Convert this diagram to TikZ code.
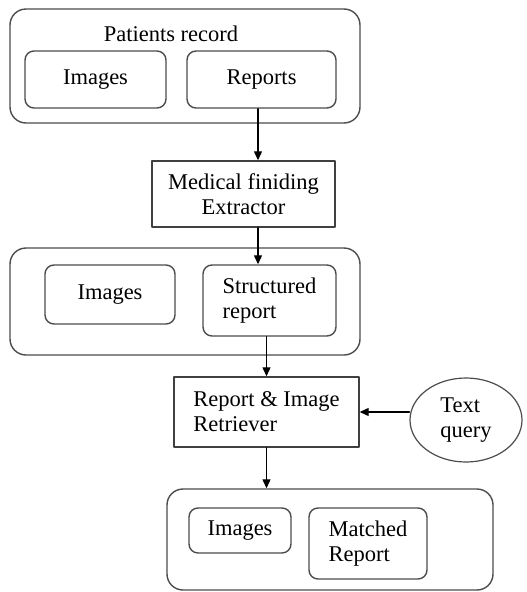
\documentclass[tikz,border=0pt]{standalone}
\usepackage{fontspec}
\setmainfont{Liberation Serif}
\usetikzlibrary{arrows.meta,shapes.geometric}

\begin{document}
\begin{tikzpicture}[line cap=round,line join=round,>={Triangle[length=9pt,width=8pt]},x=1pt,y=1pt,
		font=\fontsize{22.5}{25}\selectfont,
		outerbox/.style={draw=black!70,line width=1.4pt,rounded corners=16pt,inner sep=0pt},
		innerbox/.style={draw=black!70,line width=1.4pt,rounded corners=9pt,inner sep=0pt,align=left},
		procbox/.style={draw=black!75,line width=1.4pt,inner sep=0pt,align=left},
		querynode/.style={draw=black!70,line width=1.2pt,ellipse,inner sep=0pt,align=left},
		flow/.style={->,line width=1.2pt}]
		\useasboundingbox (0,0) rectangle (527,-592);
		% patients record
		\node[outerbox,minimum width=350,minimum height=114] (rec) at (185,-66) {};
		\node (rectitle) at (171,-34) {Patients record};
		\node[innerbox,minimum width=141,minimum height=57] (img1) at (95.5,-79.5) {Images};
		\node[innerbox,minimum width=149,minimum height=57] (rep) at (261.5,-79.5) {Reports};
		% extractor
		\node[procbox,minimum width=183,minimum height=66,align=center] (med) at (243.5,-194) {Medical finiding\\Extractor};
		% structured data
		\node[outerbox,minimum width=350,minimum height=107] (base) at (185,-301.5) {};
		\node[innerbox,minimum width=130,minimum height=59] (img2) at (110,-294.5) {Images};
		\node[innerbox,minimum width=133,minimum height=71] (str) at (269.5,-300.5) {Structured\\report};
		% retriever
		\node[procbox,minimum width=185,minimum height=70] (ret) at (266.5,-412) {Report \& Image\\Retriever};
		\node[querynode,minimum width=112,minimum height=84] (qry) at (466,-420) {Text\\query};
		% results
		\node[outerbox,minimum width=326,minimum height=101] (res) at (330,-539.5) {};
		\node[innerbox,minimum width=102,minimum height=45] (img3) at (240,-530.5) {Images};
		\node[innerbox,minimum width=118,minimum height=71] (mat) at (368,-543.5) {Matched\\Report};
		% connectors
		\draw[flow] (rep.south -| med.north) ++(14.5,0) coordinate (a1) -- (a1 |- med.north);
		\draw[flow] (med.south) ++(14.5,0) coordinate (a2) -- (a2 |- str.north);
		\draw[flow] (str.south -| ret.north) -- (ret.north);
		\draw[flow] (qry.west |- ret.east) -- (ret.east);
		\draw[flow] (ret.south) -- (ret.south |- res.north);
	\end{tikzpicture}
\end{document}
